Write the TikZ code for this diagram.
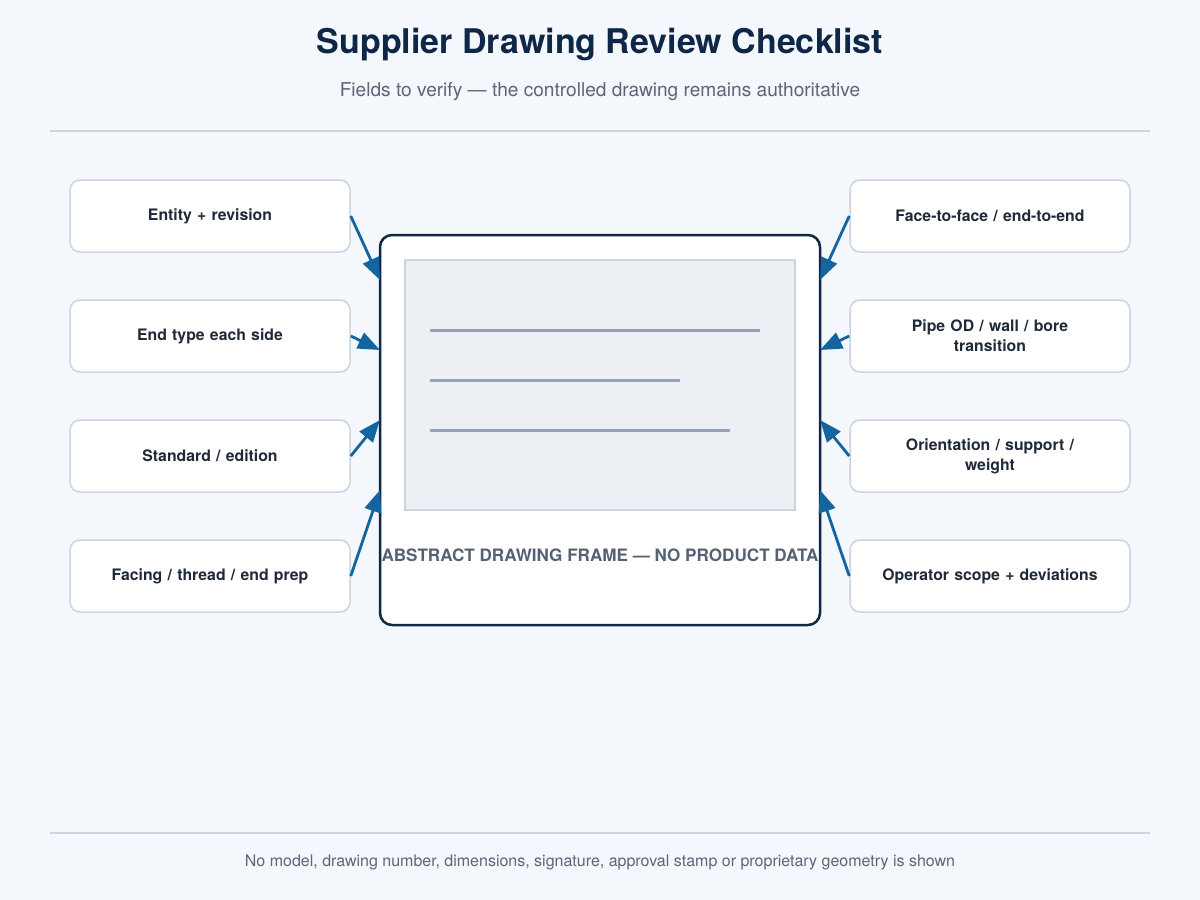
\documentclass[tikz,border=0pt]{standalone}
\usepackage{fontspec}
\setmainfont{TeX Gyre Heros}
\usetikzlibrary{arrows.meta}
\definecolor{bgc}{HTML}{F4F7FB}
\definecolor{titlec}{HTML}{0F2747}
\definecolor{subc}{HTML}{5B6678}
\definecolor{rulec}{HTML}{CDD3DF}
\definecolor{boxline}{HTML}{CBD5E1}
\definecolor{boxtext}{HTML}{1F2937}
\definecolor{framec}{HTML}{0F2747}
\definecolor{innerfill}{HTML}{ECF0F4}
\definecolor{innerline}{HTML}{CBD5DF}
\definecolor{sketchc}{HTML}{94A3B8}
\definecolor{arrowc}{HTML}{1464A0}
\definecolor{labelc}{HTML}{556274}
\tikzset{
  fieldbox/.style={draw=boxline, line width=1.5pt, fill=white, rounded corners=10pt,
    minimum width=280pt, minimum height=72pt, inner sep=0pt, align=center,
    text width=260pt, font=\fontsize{15.8}{20}\selectfont\bfseries, text=boxtext},
  pointer/.style={draw=arrowc, line width=2.8pt, -{Triangle[length=22pt,width=17pt]}},
  sketchline/.style={draw=sketchc, line width=3pt},
}
\begin{document}
\begin{tikzpicture}[x=1pt,y=-1pt]
\fill[bgc] (0,0) rectangle (1200,900);
\useasboundingbox (0,0) rectangle (1200,900);
\node[font=\fontsize{34}{40}\selectfont\bfseries, text=titlec] (title) at (600,45) {Supplier Drawing Review Checklist};
\node[font=\fontsize{19.1}{23}\selectfont, text=subc] (subtitle) at (600,92) {Fields to verify — the controlled drawing remains authoritative};
\draw[rulec, line width=1.5pt] (50,131) -- (1150,131);
% frame
\draw[framec, line width=2.5pt, fill=white, rounded corners=12pt] (380,235) rectangle (820,625);
\draw[innerline, line width=1.5pt, fill=innerfill] (405,260) rectangle (795,510);
\draw[sketchline] (430,330) -- (760,330);
\draw[sketchline] (430,380) -- (680,380);
\draw[sketchline] (430,430) -- (730,430);
\node[font=\fontsize{17.1}{20}\selectfont\bfseries, text=labelc] (framelabel) at (600,555) {ABSTRACT DRAWING FRAME — NO PRODUCT DATA};
% boxes
\node[fieldbox] (l1) at (210,216) {Entity + revision};
\node[fieldbox] (l2) at (210,336) {End type each side};
\node[fieldbox] (l3) at (210,456) {Standard / edition};
\node[fieldbox] (l4) at (210,576) {Facing / thread / end prep};
\node[fieldbox] (r1) at (990,216) {Face-to-face / end-to-end};
\node[fieldbox] (r2) at (990,336) {Pipe OD / wall / bore\\transition};
\node[fieldbox] (r3) at (990,456) {Orientation / support /\\weight};
\node[fieldbox] (r4) at (990,576) {Operator scope + deviations};
% targets on frame
\coordinate (tl1) at (380,280);
\coordinate (tl2) at (380,350);
\coordinate (tl3) at (380,420);
\coordinate (tl4) at (380,490);
\coordinate (tr1) at (820,280);
\coordinate (tr2) at (820,350);
\coordinate (tr3) at (820,420);
\coordinate (tr4) at (820,490);
\draw[pointer] (l1.east) -- (tl1);
\draw[pointer] (l2.east) -- (tl2);
\draw[pointer] (l3.east) -- (tl3);
\draw[pointer] (l4.east) -- (tl4);
\draw[pointer] (r1.west) -- (tr1);
\draw[pointer] (r2.west) -- (tr2);
\draw[pointer] (r3.west) -- (tr3);
\draw[pointer] (r4.west) -- (tr4);
% footer
\draw[rulec, line width=1.5pt] (50,833) -- (1150,833);
\node[font=\fontsize{16}{19}\selectfont, text=subc] (footer) at (600,862) {No model, drawing number, dimensions, signature, approval stamp or proprietary geometry is shown};
\end{tikzpicture}
\end{document}
